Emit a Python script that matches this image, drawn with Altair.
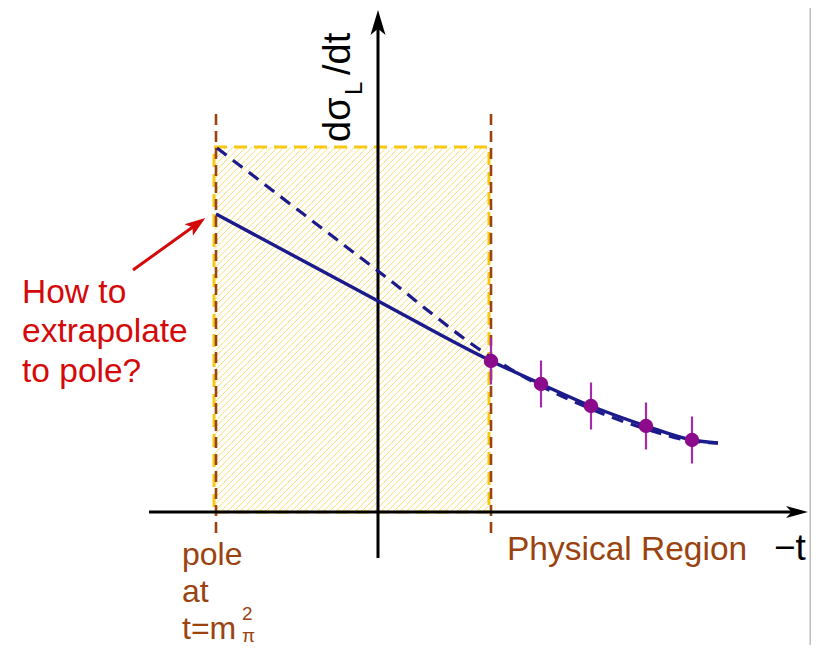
import altair as alt
import numpy as np
import pandas as pd

# ---------------- data (arbitrary units of the sketch: -t horizontally, dsigma_L/dt vertically)
pole_x = -1.62            # t = m_pi^2
phys_x = 1.13             # start of the physical region
band_top = 3.65           # top of the hatched extrapolation band
band_x0, band_x1 = -1.64, 1.11

# solid fit curve
solid_x = [-1.62, 0.0, 1.13, 1.63, 2.13, 2.68, 3.14, 3.40]
solid_y = [2.98, 2.11, 1.51, 1.28, 1.06, 0.86, 0.72, 0.69]
# dashed fit curve
dash_x = [-1.61, 0.0, 1.13, 1.63, 2.13, 2.68, 3.14, 3.40]
dash_y = [3.64, 2.41, 1.55, 1.26, 1.03, 0.83, 0.71, 0.69]
# data points with error bars
pt_x = [1.13, 1.63, 2.13, 2.68, 3.14]
pt_y = [1.51, 1.28, 1.06, 0.86, 0.72]
pt_err = [0.235, 0.235, 0.235, 0.235, 0.235]

# axes
xaxis_from, xaxis_to = -2.29, 4.20
yaxis_from, yaxis_to = -0.46, 4.88
xarrow_pos = [4.19, 0.0]
yarrow_pos = [0.0, 4.895]
guide_from, guide_to = -0.21, 4.02

# red annotation arrow
red_tail = [-2.45, 2.42]
red_head = [-1.81, 2.88]

XDOM = [-3.70, 4.33]
YDOM = [-1.33, 5.04]
W, H = 803, 637

xs = alt.Scale(domain=XDOM, nice=False, zero=False, padding=0)
ys = alt.Scale(domain=YDOM, nice=False, zero=False, padding=0)

def X(f="x"):
    return alt.X(f, type="quantitative", scale=xs, axis=None)

def Y(f="y"):
    return alt.Y(f, type="quantitative", scale=ys, axis=None)

FONT = "Liberation Sans"
BROWN = "#9a4310"
GOLD = "#f7c814"
NAVY = "#1b1b8c"
PURPLE = "#8c0a8c"
RED = "#d40a0a"

# ---------------- hatch texture of the band
step = 0.064
rows = []
for c in np.arange(0.0 - band_x1, band_top - band_x0, step):
    x_s = max(band_x0, 0.0 - c)
    x_e = min(band_x1, band_top - c)
    if x_s < x_e:
        rows.append({"x": x_s, "y": x_s + c, "x2": x_e, "y2": x_e + c})
hatch_df = pd.DataFrame(rows)
hatch = alt.Chart(hatch_df).mark_rule(color="#f8de70", strokeWidth=1.0).encode(
    x=X(), y=Y(), x2="x2", y2="y2")

band_df = pd.DataFrame({"x": [band_x0], "x2": [band_x1], "y": [0.0], "y2": [band_top]})
band = alt.Chart(band_df).mark_rect(fill=None, stroke=GOLD, strokeWidth=3,
                                    strokeDash=[13, 7]).encode(
    x=X(), x2="x2", y=Y(), y2="y2")

guides_df = pd.DataFrame({"x": [pole_x, phys_x], "y": [guide_from] * 2, "y2": [guide_to] * 2})
guides = alt.Chart(guides_df).mark_rule(color=BROWN, strokeWidth=2.6,
                                        strokeDash=[11, 6]).encode(
    x=X(), y=Y(), y2="y2")

# ---------------- axes
xaxis = alt.Chart(pd.DataFrame({"x": [xaxis_from], "x2": [xaxis_to], "y": [0.0]})).mark_rule(
    color="black", strokeWidth=3).encode(x=X(), x2="x2", y=Y())
yaxis = alt.Chart(pd.DataFrame({"x": [0.0], "y": [yaxis_from], "y2": [yaxis_to]})).mark_rule(
    color="black", strokeWidth=3).encode(x=X(), y=Y(), y2="y2")
ARROW = "M0,-1L0.6,1L0,0.5L-0.6,1Z"
xhead = alt.Chart(pd.DataFrame({"x": [xarrow_pos[0]], "y": [xarrow_pos[1]]})).mark_point(
    shape="M0,-1L0.55,1L0,0.5L-0.55,1Z", filled=True, color="black", opacity=1,
    size=484, angle=90).encode(x=X(), y=Y())
yhead = alt.Chart(pd.DataFrame({"x": [yarrow_pos[0]], "y": [yarrow_pos[1]]})).mark_point(
    shape=ARROW, filled=True, color="black", opacity=1, size=625).encode(x=X(), y=Y())

# ---------------- curves & points
dashed = alt.Chart(pd.DataFrame({"x": dash_x, "y": dash_y})).mark_line(
    color=NAVY, strokeWidth=3.2, strokeDash=[12, 8], interpolate="monotone").encode(
    x=X(), y=Y())
solid = alt.Chart(pd.DataFrame({"x": solid_x, "y": solid_y})).mark_line(
    color=NAVY, strokeWidth=3.4, interpolate="monotone").encode(x=X(), y=Y())

pts_df = pd.DataFrame({"x": pt_x, "y": pt_y, "e": pt_err})
errs = alt.Chart(pts_df).transform_calculate(
    lo="datum.y - datum.e", hi="datum.y + datum.e").mark_rule(
    color="#a32ca8", strokeWidth=2.2).encode(x=X(), y=Y("lo"), y2="hi")
pts = alt.Chart(pts_df).mark_circle(color=PURPLE, opacity=1, size=210).encode(
    x=X(), y=Y())

# ---------------- red arrow
red_line = alt.Chart(pd.DataFrame({"x": [red_tail[0]], "y": [red_tail[1]],
                                   "x2": [red_head[0]], "y2": [red_head[1]]})).mark_rule(
    color=RED, strokeWidth=3).encode(x=X(), y=Y(), x2="x2", y2="y2")
red_tip = alt.Chart(pd.DataFrame({"x": [red_head[0]], "y": [red_head[1]]})).mark_point(
    shape="M0,-1L0.7,1L0,0.55L-0.7,1Z", filled=True, color=RED, opacity=1,
    size=420, angle=54).encode(x=X(), y=Y())

# right frame line
frame = alt.Chart(pd.DataFrame({"x": [4.322], "y": [YDOM[0]], "y2": [YDOM[1]]})).mark_rule(
    color="#bdbdbd", strokeWidth=1.5).encode(x=X(), y=Y(), y2="y2")

# ---------------- texts
def text_layer(df, color, size, **kw):
    return alt.Chart(df).mark_text(font=FONT, fontSize=size, color=color, align="left",
                                   baseline="alphabetic", **kw).encode(
        x=X(), y=Y(), text="t:N")

red_text = text_layer(pd.DataFrame({"x": [-3.56] * 3, "y": [2.09, 1.70, 1.30],
                                    "t": ["How to", "extrapolate", "to pole?"]}), RED, 33.5)
pole_text = text_layer(pd.DataFrame({"x": [-1.96] * 3, "y": [-0.53, -0.90, -1.27],
                                     "t": ["pole", "at", "t=m"]}), BROWN, 32)
pi_sup = text_layer(pd.DataFrame({"x": [-1.36], "y": [-1.08], "t": ["2"]}), BROWN, 19)
pi_sub = text_layer(pd.DataFrame({"x": [-1.36], "y": [-1.30], "t": ["π"]}), BROWN, 19)
phys_text = text_layer(pd.DataFrame({"x": [1.29], "y": [-0.48], "t": ["Physical Region"]}),
                       BROWN, 33.5)
t_text = text_layer(pd.DataFrame({"x": [3.96], "y": [-0.48], "t": ["−t"]}), "black", 37)

ylab_main = text_layer(pd.DataFrame({"x": [-0.28], "y": [3.70], "t": ["dσ"]}), "black", 38,
                       angle=270)
ylab_sub = text_layer(pd.DataFrame({"x": [-0.16], "y": [4.17], "t": ["L"]}), "black", 24,
                      angle=270)
ylab_end = text_layer(pd.DataFrame({"x": [-0.28], "y": [4.37], "t": ["/dt"]}), "black", 38,
                      angle=270)

chart = alt.layer(
    hatch, band, guides, xaxis, yaxis, xhead, yhead, dashed, solid, errs, pts,
    red_line, red_tip, frame, red_text, pole_text, pi_sup, pi_sub, phys_text, t_text,
    ylab_main, ylab_sub, ylab_end,
).properties(
    width=W, height=H, autosize=alt.AutoSizeParams(type="none"), padding=0,
    background="white",
).configure_view(stroke=None)

chart.save("out.html", embed_options={"renderer": "svg", "actions": False})
